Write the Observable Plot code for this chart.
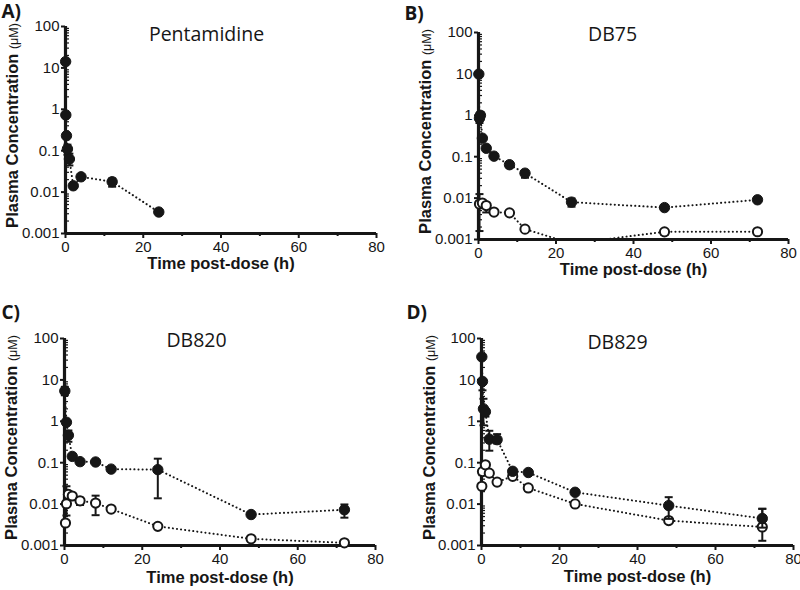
<!DOCTYPE html>
<html><head><meta charset="utf-8">
<script src="https://cdn.jsdelivr.net/npm/d3@7"></script>
<script src="https://cdn.jsdelivr.net/npm/@observablehq/plot@0.6"></script>
<style>
body{margin:0;background:#fff}
#wrap{position:relative;width:800px;height:590px;overflow:hidden}
#wrap svg{position:absolute}
</style>
</head><body><div id="wrap"></div>
<script>
// ---- tick labels / text ----
const xTicks = [0, 20, 40, 60, 80];
const xMinorTicks = [10, 30, 50, 70];
const yTicks = [0.001, 0.01, 0.1, 1, 10, 100];
const yTickLabels = ["0.001", "0.01", "0.1", "1", "10", "100"];
const yMinorTicks = [];
for (const dec of [0.001, 0.01, 0.1, 1, 10]) for (const m of [2,3,4,5,6,7,8,9]) yMinorTicks.push(dec * m);
const panelLetters = ["A)", "B)", "C)", "D)"];
const panelTitles = ["Pentamidine", "DB75", "DB820", "DB829"];
const xLabel = "Time post-dose (h)";
const yLabelMain = "Plasma Concentration ";
const yLabelUnit = "(μM)";

// ---- A) Pentamidine ----
const pentTime     = [0.033, 0.083, 0.25, 0.5, 1, 2, 4, 12, 24];
const pentFilled   = [14.2, 0.73, 0.23, 0.11, 0.063, 0.0142, 0.0234, 0.0178, 0.0033];
const pentFilledLo = [null, null, null, 0.08, 0.044, null, null, 0.0135, null];
const pentFilledHi = [null, null, null, 0.14, 0.085, null, null, 0.0214, null];

// ---- B) DB75 ----
const db75FilledTime = [0.083, 0.25, 0.5, 1, 2, 4, 8, 12, 24, 48, 72];
const db75Filled     = [9.9, 0.85, 1.0, 0.28, 0.16, 0.103, 0.064, 0.040, 0.0080, 0.0059, 0.0091];
const db75FilledLo   = [null, 0.65, 0.8, null, 0.14, null, 0.055, 0.031, 0.0062, null, null];
const db75FilledHi   = [null, 1.1, 1.2, null, 0.18, null, 0.072, 0.047, 0.0098, null, null];
const db75OpenTime   = [0.25, 1, 2, 4, 8, 12, 24, 48, 72];
const db75Open       = [0.0072, 0.0076, 0.0066, 0.0046, 0.0044, 0.00178, 0.0008, 0.00153, 0.00154];
const db75OpenLo     = [0.0016, null, 0.0045, 0.0040, null, null, null, 0.0013, 0.0014];
const db75OpenHi     = [0.0125, null, 0.0072, 0.0052, null, null, null, 0.0017, 0.0016];

// ---- C) DB820 ----
const db820FilledTime = [0.083, 0.5, 1, 2, 4, 8, 12, 24, 48, 72];
const db820Filled     = [5.4, 0.95, 0.46, 0.142, 0.106, 0.104, 0.070, 0.068, 0.0056, 0.0073];
const db820FilledLo   = [4.25, null, 0.32, null, 0.09, null, null, 0.0138, null, 0.0047];
const db820FilledHi   = [6.8, null, 0.6, null, 0.12, null, null, 0.125, null, 0.0098];
const db820OpenTime   = [0.25, 0.5, 1, 2, 4, 8, 12, 24, 48, 72];
const db820Open       = [0.0035, 0.0102, 0.0171, 0.0157, 0.012, 0.0106, 0.0076, 0.0029, 0.00145, 0.00116];
const db820OpenLo     = [null, 0.0053, null, null, 0.0095, 0.0054, null, null, null, null];
const db820OpenHi     = [null, 0.027, null, null, 0.0142, 0.016, null, null, null, null];

// ---- D) DB829 ----
const db829FilledTime = [0.083, 0.25, 0.5, 1, 2, 4, 8, 12, 24, 48, 72];
const db829Filled     = [36, 9.2, 2.0, 1.7, 0.37, 0.36, 0.062, 0.058, 0.0193, 0.0092, 0.0045];
const db829FilledLo   = [null, 5.6, 0.8, 1.3, 0.195, 0.29, null, null, null, 0.0044, 0.0027];
const db829FilledHi   = [null, 10, 3.5, 2.0, 0.59, 0.49, null, null, null, 0.0147, 0.0077];
const db829OpenTime   = [0.083, 0.25, 1, 2, 4, 8, 12, 24, 48, 72];
const db829Open       = [0.027, 0.061, 0.089, 0.056, 0.034, 0.047, 0.0246, 0.0101, 0.0040, 0.0028];
const db829OpenLo     = [null, 0.05, null, null, null, null, 0.021, null, 0.0036, 0.0013];
const db829OpenHi     = [null, 0.07, null, null, null, null, 0.028, null, 0.0045, 0.0077];

// ---- helpers ----
const ink = "#161616";
const capSymbol = { draw(ctx, size) { const w = Math.sqrt(size / Math.PI); ctx.moveTo(-w, 0); ctx.lineTo(w, 0); } };
function rows(t, v, lo, hi) { return t.map((d, i) => ({t: d, v: v[i], lo: lo[i], hi: hi[i]})); }
const yFmt = d => { const k = yTicks.findIndex(v => Math.abs(v - d) / v < 1e-6); return k < 0 ? "" : yTickLabels[k]; };

function seriesMarks(data, open) {
  const err = data.filter(d => d.lo != null);
  const caps = err.flatMap(d => [{t: d.t, y: d.lo}, {t: d.t, y: d.hi}]);
  return [
    Plot.line(data, {x: "t", y: "v", stroke: ink, strokeWidth: 2, strokeDasharray: "0.1,4", strokeLinecap: "round", clip: "frame"}),
    Plot.ruleX(err, {x: "t", y1: "lo", y2: "hi", stroke: ink, strokeWidth: 2}),
    Plot.dot(caps, {x: "t", y: "y", symbol: capSymbol, r: 4, stroke: ink, strokeWidth: 2, fill: "none"}),
    Plot.dot(data.filter(d => d.v >= 0.001), {x: "t", y: "v", r: open ? 4.6 : 5.2,
      fill: open ? "white" : ink, stroke: ink, strokeWidth: open ? 2 : 1})
  ];
}

const panels = [
  {left: 0, top: 0, ml: 65, mr: 24, mt: 26, mb: 62, title: [206, 34], letter: [1, 11], ylabX: 12.5, xlabDy: 35,
   series: [[rows(pentTime, pentFilled, pentFilledLo, pentFilledHi), false]]},
  {left: 400, top: 0, ml: 78, mr: 12, mt: 32, mb: 56, title: [212, 34], letter: [4, 13], ylabX: 25.5, xlabDy: 35,
   series: [[rows(db75OpenTime, db75Open, db75OpenLo, db75OpenHi), true],
            [rows(db75FilledTime, db75Filled, db75FilledLo, db75FilledHi), false]]},
  {left: 0, top: 295, ml: 64, mr: 25, mt: 43, mb: 45, title: [196, 45], letter: [1, 17.5], ylabX: 11, xlabDy: 37,
   series: [[rows(db820OpenTime, db820Open, db820OpenLo, db820OpenHi), true],
            [rows(db820FilledTime, db820Filled, db820FilledLo, db820FilledHi), false]]},
  {left: 400, top: 295, ml: 81, mr: 7, mt: 43, mb: 45, title: [217, 47.5], letter: [6, 17], ylabX: 29, xlabDy: 36,
   series: [[rows(db829OpenTime, db829Open, db829OpenLo, db829OpenHi), true],
            [rows(db829FilledTime, db829Filled, db829FilledLo, db829FilledHi), false]]}
];

const W = 400, H = 295;
const wrap = document.getElementById("wrap");
panels.forEach((p, i) => {
  const marks = [
    Plot.axisX({ticks: xTicks, tickSize: 5, tickPadding: 3, fontSize: 15, label: null, strokeWidth: 2}),
    Plot.axisX({ticks: xMinorTicks, tickSize: 3, tickFormat: () => "", label: null, strokeWidth: 2}),
    Plot.axisY({ticks: yTicks, tickFormat: yFmt, tickSize: 4, tickPadding: 2, fontSize: 15, label: null, strokeWidth: 2}),
    Plot.axisY({ticks: yMinorTicks, tickSize: 3, dx: 4, tickFormat: () => "", label: null, strokeWidth: 1.2}),
    Plot.ruleX([0], {y1: 0.001, y2: 100, stroke: ink, strokeWidth: 3.2}),
    Plot.ruleY([0.001], {x1: 0, x2: 80, stroke: ink, strokeWidth: 3.2}),
    ...p.series.flatMap(([d, open]) => seriesMarks(d, open)),
    Plot.text([panelTitles[i]], {text: d => d, frameAnchor: "top-left", dx: p.title[0] - p.ml, dy: p.title[1] - p.mt,
      fontSize: 19.5, fontFamily: "Open Sans, sans-serif", textAnchor: "middle", lineAnchor: "middle"}),
    Plot.text([panelLetters[i]], {text: d => d, frameAnchor: "top-left", dx: p.letter[0] - p.ml, dy: p.letter[1] - p.mt,
      fontSize: 19, fontWeight: "bold", fontFamily: "Open Sans, sans-serif", textAnchor: "start", lineAnchor: "middle"}),
    Plot.text([xLabel], {text: d => d, frameAnchor: "bottom", dy: p.xlabDy, fontSize: 16.5, fontWeight: "bold"})
  ];
  const node = Plot.plot({
    width: W, height: H,
    marginLeft: p.ml, marginRight: p.mr, marginTop: p.mt, marginBottom: p.mb,
    style: {fontFamily: "'Liberation Sans', Arial, sans-serif", color: ink, background: "transparent", overflow: "visible"},
    x: {domain: [0, 80]},
    y: {type: "log", domain: [0.001, 100]},
    marks
  });
  node.style.left = p.left + "px";
  node.style.top = p.top + "px";
  const cy = (p.mt + (H - p.mb)) / 2 - 4;
  const t = d3.select(node).append("text")
    .attr("transform", `translate(${p.ylabX},${cy}) rotate(-90)`)
    .attr("text-anchor", "middle").attr("y", 5.8).attr("fill", ink);
  t.append("tspan").attr("font-weight", "bold").attr("font-size", 16.5).text(yLabelMain);
  t.append("tspan").attr("font-size", 12.5).text(yLabelUnit);
  wrap.appendChild(node);
});
</script>
</body></html>
